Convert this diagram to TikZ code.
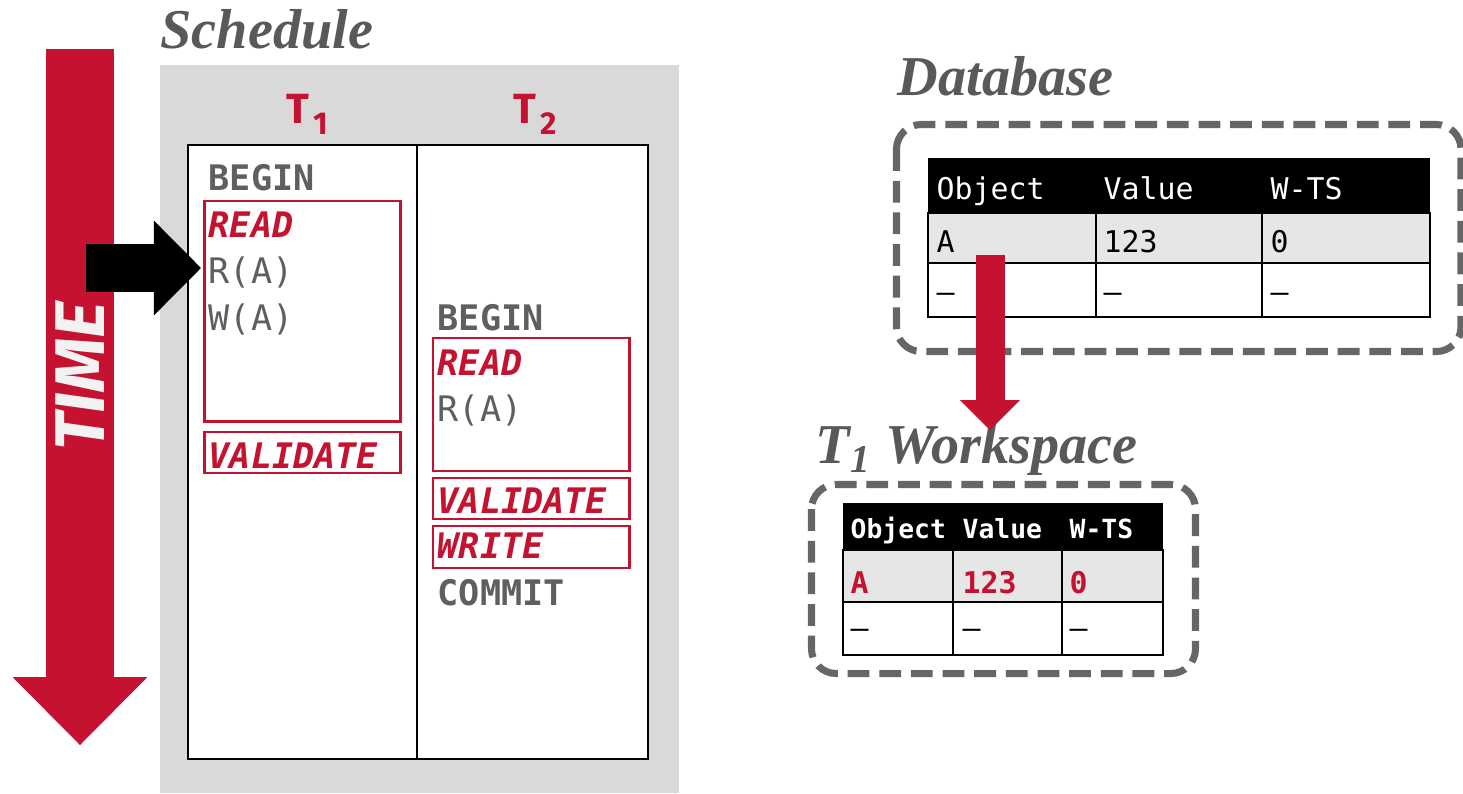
\documentclass[tikz,border=0pt]{standalone}
\usepackage{fontspec}
\setmainfont{Liberation Serif}
\setmonofont{DejaVu Sans Mono}
\newfontfamily\firasans{Fira Sans}
\usetikzlibrary{arrows.meta}

\definecolor{cmured}{HTML}{C41230}
\definecolor{headgray}{HTML}{595959}
\definecolor{opgray}{HTML}{5F5F5F}
\definecolor{boxgray}{HTML}{D9D9D9}
\definecolor{rowgray}{HTML}{E6E6E6}
\definecolor{dashgray}{HTML}{666666}
\definecolor{timewhite}{HTML}{F2F2F2}

\newcommand{\txnsub}[1]{T\kern1pt\raisebox{-3.4pt}{\fontsize{9}{9}\selectfont #1}}

\begin{document}
\begin{tikzpicture}[x=0.01cm,y=-0.01cm,
  heading/.style={anchor=base west,inner sep=0pt,text=headgray,font=\fontsize{16}{16}\selectfont\bfseries\itshape},
  txn/.style={anchor=base west,inner sep=0pt,text=cmured,font=\firasans\fontsize{12}{12}\selectfont\bfseries},
  op/.style={anchor=base west,inner sep=0pt,text=opgray,font=\ttfamily\fontsize{10}{10}\selectfont},
  opbold/.style={op,font=\ttfamily\fontsize{10}{10}\selectfont\bfseries},
  phase/.style={op,text=cmured,font=\ttfamily\fontsize{10}{10}\selectfont\bfseries\itshape},
  phasebox/.style={draw=cmured,line width=0.6pt},
  dbbox/.style={draw=dashgray,line width=2pt,dash pattern=on 6.2pt off 2.8pt,rounded corners=7pt},
  tbl/.style={draw=black,line width=0.8pt},
  cell/.style={anchor=base west,inner sep=0pt,font=\ttfamily\fontsize{8.5}{8.5}\selectfont},
  headcell/.style={cell,text=white},
  wscell/.style={cell,text=cmured,font=\ttfamily\fontsize{8.5}{8.5}\selectfont\bfseries},
  wshead/.style={cell,text=white,font=\ttfamily\fontsize{7.5}{7.5}\selectfont\bfseries},
  timelabel/.style={rotate=90,inner sep=0pt,text=timewhite,font=\firasans\fontsize{20}{20}\selectfont\bfseries\itshape},
  fatarrow/.style={line width=#1}
]
\useasboundingbox (0,0) rectangle (1463,793);

% schedule
\fill[boxgray] (160,65) rectangle (679,793);
\draw[fill=white,line width=0.7pt] (188,145) rectangle (648,759);
\draw[line width=0.7pt] (417,145) -- (417,759);
\node[heading] (schedule) at (160,48) {Schedule};
\node[txn] (t1) at (286,123) {\txnsub{1}};
\node[txn] (t2) at (513,123) {\txnsub{2}};

% T1 column
\draw[phasebox] (204.5,201) rectangle (400.5,421.5);
\draw[phasebox] (204.5,432) rectangle (400.5,473);
\node[opbold] (begin1) at (208,190) {BEGIN};
\node[phase] (read1) at (208,237) {READ};
\node[op] (rA1) at (208,283) {R(A)};
\node[op] (wA1) at (208,330) {W(A)};
\node[phase] (valid1) at (208,468) {VALIDATE};

% T2 column
\draw[phasebox] (433,338) rectangle (629.5,471);
\draw[phasebox] (433,478) rectangle (629.5,519);
\draw[phasebox] (433,526) rectangle (629.5,568);
\node[opbold] (begin2) at (437,330) {BEGIN};
\node[phase] (read2) at (437,375) {READ};
\node[op] (rA2) at (437,421) {R(A)};
\node[phase] (valid2) at (437,513) {VALIDATE};
\node[phase] (write2) at (437,558) {WRITE};
\node[opbold] (commit2) at (437,605) {COMMIT};

% time arrow
\coordinate (tstart) at (80,49);
\coordinate (tend) at (80,745);
\draw[cmured,fatarrow=19.3pt,-{Triangle[length=19.3pt,width=38.3pt,line width=0pt]}]
  (tstart) -- node[timelabel,pos=0.47]{TIME} (tend);

% pointer
\coordinate (ptr) at (86,268);
\draw[black,fatarrow=13.7pt,shorten >=2pt,-{Triangle[length=13.4pt,width=27pt,line width=0pt]}]
  (ptr) -- (ptr -| rA1.west);

% database
\node[heading] (database) at (897,95) {Database};
\draw[dbbox] (896.5,124.5) rectangle (1461,351.5);
\fill[black] (928,158) rectangle (1430,213);
\fill[rowgray] (928,213) rectangle (1430,263);
\draw[tbl] (928,213) rectangle (1430,317);
\draw[tbl] (928,263) -- (1430,263);
\draw[tbl] (1096,213) -- (1096,317);
\draw[tbl] (1262,213) -- (1262,317);
\node[headcell] (dbobj) at (936,199) {Object};
\node[headcell] (dbval) at (1103,199) {Value};
\node[headcell] (dbts) at (1270,199) {W-TS};
\node[cell] (dbA) at (936,252) {A};
\node[cell] (dbAval) at (1103,252) {123};
\node[cell] (dbAts) at (1270,252) {0};
\node[cell] (dbnil) at (936,302) {–};
\node[cell] (dbnilval) at (1103,302) {–};
\node[cell] (dbnilts) at (1270,302) {–};

% workspace
\node[heading] (workspace) at (815,463) {T\textsubscript{1} Workspace};
\draw[dbbox] (811.5,484.5) rectangle (1195.5,673.5);
\fill[black] (843,503) rectangle (1163,550);
\fill[rowgray] (843,550) rectangle (1163,602);
\draw[tbl] (843,550) rectangle (1163,655);
\draw[tbl] (843,602) -- (1163,602);
\draw[tbl] (953,550) -- (953,655);
\draw[tbl] (1062,550) -- (1062,655);
\node[wshead] (wsobj) at (850,538) {Object};
\node[wshead] (wsval) at (962,538) {Value};
\node[wshead] (wsts) at (1069,538) {W-TS};
\node[wscell] (wsA) at (850,593) {A};
\node[wscell] (wsAval) at (962,593) {123};
\node[wscell] (wsAts) at (1069,593) {0};
\node[cell] (wsnil) at (850,638) {–};
\node[cell] (wsnilval) at (962,638) {–};
\node[cell] (wsnilts) at (1069,638) {–};

% copy into workspace
\coordinate (copyfrom) at (990,255);
\coordinate (copyto) at (990,430);
\draw[cmured,fatarrow=8.25pt,-{Triangle[length=8.5pt,width=17pt,line width=0pt]}]
  (copyfrom) -- (copyto);
\end{tikzpicture}
\end{document}
